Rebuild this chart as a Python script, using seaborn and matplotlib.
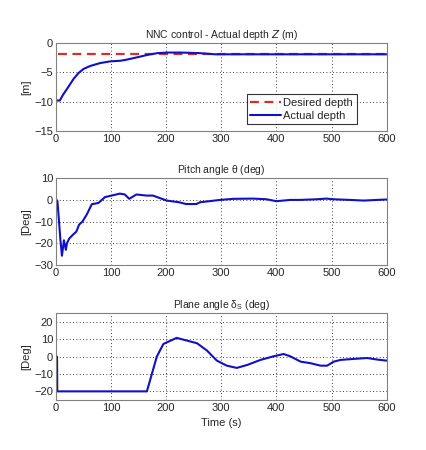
import numpy as np
import pandas as pd
import matplotlib
matplotlib.use("Agg")
import matplotlib.pyplot as plt
import seaborn as sns

# --- depth response (m) ---
depth_t = [0, 7, 13, 23, 32, 41, 50, 62, 80, 99, 117, 129, 148, 166, 184, 202,
           227, 261, 289, 350, 420, 500, 600]
depth_z = [-9.8, -9.8, -8.8, -7.4, -6.1, -5.1, -4.4, -3.9, -3.4, -3.1, -3.0, -2.8,
           -2.4, -2.0, -1.7, -1.6, -1.6, -1.7, -1.9, -1.9, -1.9, -1.9, -1.9]
desired_t = [4, 600]
desired_z = [-1.8, -1.8]

# --- pitch angle (deg) ---
pitch_t = [0, 1, 2.7, 5, 8, 10.9, 14.5, 18, 20, 24, 31, 37, 42, 48, 56, 65, 77,
           89, 101, 116, 125, 133, 146, 164, 176, 201, 224, 236, 255, 261, 298,
           322, 358, 382, 400, 425, 443, 473, 491, 503, 533, 558, 600]
pitch_v = [0, 0, -0.5, -8, -18, -25.7, -18.6, -23, -20, -17.8, -16, -14.6, -11.4,
           -10, -6.7, -2, -1.4, 1.3, 2, 2.9, 2.5, 0.5, 2.5, 2, 2, -0.3, -1.1, -1.9,
           -1.9, -1.1, 0, 0.5, 0.6, 0.3, -0.6, 0, 0, 0.3, 0.6, 0.3, 0, -0.3, 0.2]

# --- plane angle (deg) ---
plane_t = [0, 2, 2.4, 165, 183, 195, 219, 238, 256, 274, 292, 310, 328, 347, 371,
           395, 413, 425, 444, 462, 480, 492, 504, 516, 541, 565, 583, 600]
plane_v = [0, 0, -20, -20, 0, 7.3, 10.8, 9.2, 7.7, 3.5, -2.3, -5.2, -6.5, -4.8,
           -1.9, 0.2, 1.5, 0.2, -2.9, -3.8, -5.2, -5.2, -2.9, -1.9, -1.3, -0.8,
           -1.7, -2.3]

sns.set_style("white")
plt.rcParams['font.family'] = ['Liberation Sans', 'DejaVu Sans']
plt.rcParams['mathtext.default'] = 'regular'

blue = '#1010C8'
red = '#D03030'

fig = plt.figure(figsize=(4.27, 4.5), dpi=100)
ax1 = fig.add_axes([0.131, 0.709, 0.7745, 0.195])
ax2 = fig.add_axes([0.131, 0.411, 0.7745, 0.193])
ax3 = fig.add_axes([0.131, 0.111, 0.7745, 0.193])

df_des = pd.DataFrame({'t': desired_t, 'z': desired_z})
df_act = pd.DataFrame({'t': depth_t, 'z': depth_z})
sns.lineplot(data=df_des, x='t', y='z', ax=ax1, color=red, lw=1.6,
             linestyle=(0, (4, 2.5)), label='Desired depth')
sns.lineplot(data=df_act, x='t', y='z', ax=ax1, color=blue, lw=1.5,
             label='Actual depth')
ax1.set_ylim(-15, 0)
ax1.set_yticks([-15, -10, -5, 0])
ax1.set_title(r'NNC control - Actual depth $\it{Z}$ (m)', fontsize=7.5, pad=4)
ax1.set_ylabel('[m]')
leg = ax1.legend(loc='lower right', bbox_to_anchor=(0.909, 0.076), fontsize=8,
                 frameon=True, fancybox=False, edgecolor='black',
                 handlelength=2.8, borderpad=0.3, labelspacing=0.3,
                 handletextpad=0.2, borderaxespad=0)
leg.get_frame().set_linewidth(0.8)

sns.lineplot(x=pitch_t, y=pitch_v, ax=ax2, color=blue, lw=1.5)
ax2.set_ylim(-30, 10)
ax2.set_yticks([-30, -20, -10, 0, 10])
ax2.set_title(r'Pitch angle $\theta$ (deg)', fontsize=7.5, pad=4)
ax2.set_ylabel('[Deg]')

sns.lineplot(x=plane_t, y=plane_v, ax=ax3, color=blue, lw=1.5)
ax3.set_ylim(-25, 25)
ax3.set_yticks([-20, -10, 0, 10, 20])
ax3.set_title(r'Plane angle $\delta_S$ (deg)', fontsize=7.5, pad=4)
ax3.set_ylabel('[Deg]')
ax3.set_xlabel('Time (s)', fontsize=8)

for ax in (ax1, ax2, ax3):
    ax.set_xlim(0, 600)
    ax.set_xticks(range(0, 601, 100))
    ax.grid(True, linestyle=(0, (1, 3)), color='black', lw=0.6)
    ax.tick_params(labelsize=8, length=2, direction='in', pad=2)
    ax.yaxis.label.set_size(8)
    ax.yaxis.labelpad = 2
    for s in ax.spines.values():
        s.set_color('#808080')
        s.set_linewidth(0.8)
    if ax is not ax3:
        ax.set_xlabel('')

fig.savefig('out.png', dpi=100, facecolor='white')
